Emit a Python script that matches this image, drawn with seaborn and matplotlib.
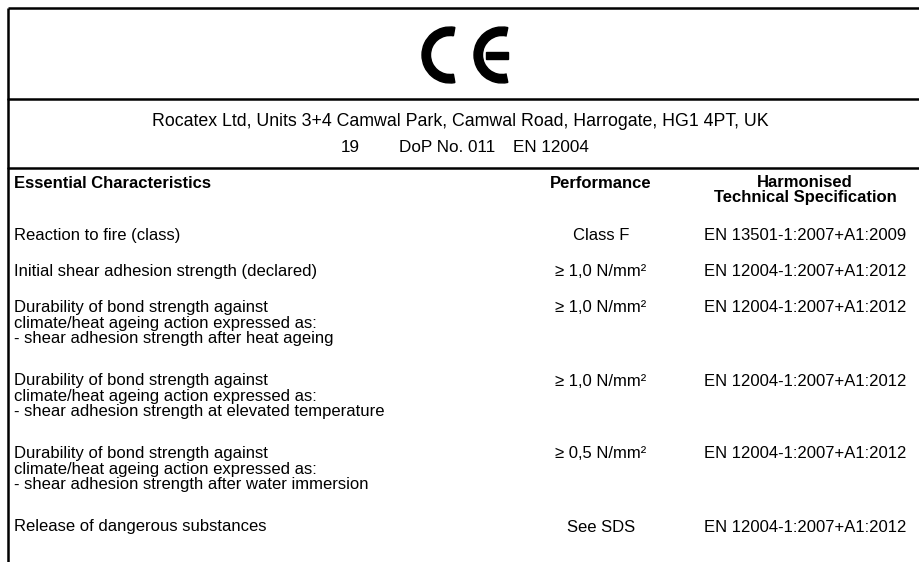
import matplotlib.pyplot as plt
from matplotlib.patches import Wedge, Rectangle
import seaborn as sns

# table content
manufacturer = "Rocatex Ltd, Units 3+4 Camwal Park, Camwal Road, Harrogate, HG1 4PT, UK"
ref_items = ["19", "DoP No. 011", "EN 12004"]
headers = ["Essential Characteristics", "Performance", "Harmonised\nTechnical Specification"]
characteristics = [
    "Reaction to fire (class)",
    "Initial shear adhesion strength (declared)",
    "Durability of bond strength against\nclimate/heat ageing action expressed as:\n- shear adhesion strength after heat ageing",
    "Durability of bond strength against\nclimate/heat ageing action expressed as:\n- shear adhesion strength at elevated temperature",
    "Durability of bond strength against\nclimate/heat ageing action expressed as:\n- shear adhesion strength after water immersion",
    "Release of dangerous substances",
]
performance = ["Class F", "≥ 1,0 N/mm²", "≥ 1,0 N/mm²", "≥ 1,0 N/mm²", "≥ 0,5 N/mm²", "See SDS"]
specifications = [
    "EN 13501-1:2007+A1:2009",
    "EN 12004-1:2007+A1:2012",
    "EN 12004-1:2007+A1:2012",
    "EN 12004-1:2007+A1:2012",
    "EN 12004-1:2007+A1:2012",
    "EN 12004-1:2007+A1:2012",
]

sns.set_theme(style="white")
plt.rcParams['font.family'] = ['Liberation Sans', 'DejaVu Sans']
plt.rcParams['text.color'] = 'black'

W, H = 920, 562
fig = plt.figure(figsize=(W / 100, H / 100), dpi=100)
ax = fig.add_axes([0, 0, 1, 1])
ax.set_xlim(0, W)
ax.set_ylim(H, 0)
ax.axis('off')

# frame lines
lw = 1.8
ax.plot([8, W], [8, 8], color='black', lw=lw, solid_capstyle='butt')
ax.plot([8, 8], [8, H], color='black', lw=lw, solid_capstyle='butt')
ax.plot([8, W], [99, 99], color='black', lw=lw)
ax.plot([8, W], [168, 168], color='black', lw=lw)

# CE mark
R, stroke = 28, 8.5
ax.add_patch(Wedge((450, 55), R, 80, 280, width=stroke, color='black'))
ax.add_patch(Wedge((502, 55), R, 78, 282, width=stroke, color='black'))
ax.add_patch(Rectangle((486, 51.5), 22, 7, color='black'))

fs = 12
ax.text(460, 122, manufacturer, ha='center', va='center', fontsize=12.8)
for x, t in zip([350, 447, 551], ref_items):
    ax.text(x, 147, t, ha='center', va='center', fontsize=12.3)

col_x = [14, 601, 805]
ax.text(col_x[0], 183, headers[0], ha='left', va='center', fontsize=fs, fontweight='bold')
ax.text(col_x[1], 183, headers[1], ha='center', va='center', fontsize=fs, fontweight='bold')
ax.text(col_x[2], 175, headers[2], ha='center', va='top', fontsize=fs, fontweight='bold',
        linespacing=0.98)

y = 236
for c, p, s in zip(characteristics, performance, specifications):
    n = c.count('\n') + 1
    ax.text(col_x[0], y - 8, c, ha='left', va='top', fontsize=fs, linespacing=1.05)
    ax.text(col_x[1], y, p, ha='center', va='center', fontsize=fs)
    ax.text(col_x[2], y, s, ha='center', va='center', fontsize=fs)
    y += 36 + (n - 1) * 18.5

plt.savefig('out.png', dpi=100)
